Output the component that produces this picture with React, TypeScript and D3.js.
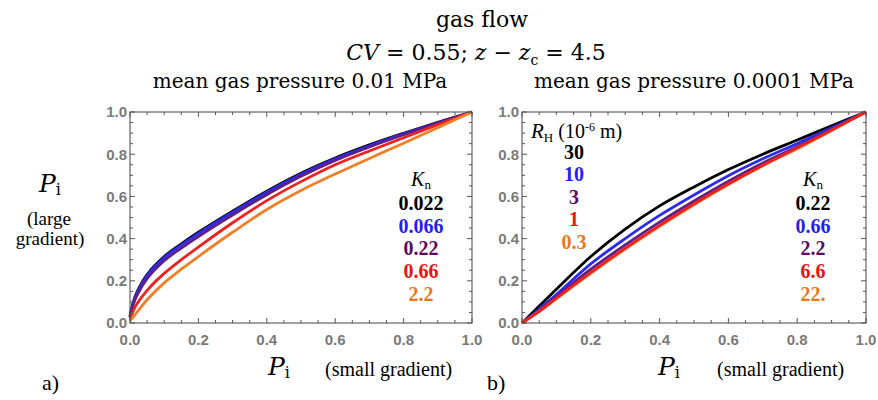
import React from "react";
import * as d3 from "d3";

// small gradient pressure grid (x) for each panel
const gridA = [0, 0.01, 0.02, 0.05, 0.1, 0.15, 0.2, 0.3, 0.4, 0.5, 0.6, 0.7, 0.8, 0.9, 1.0];
const gridB = [0, 0.05, 0.1, 0.2, 0.3, 0.4, 0.5, 0.6, 0.7, 0.8, 0.9, 1.0];

// panel a: mean gas pressure 0.01 MPa, one curve per Kn
const a_k0022 = [0.03, 0.1, 0.145, 0.23, 0.315, 0.375, 0.43, 0.53, 0.625, 0.71, 0.782, 0.844, 0.899, 0.951, 1.0];
const a_k0066 = [0.03, 0.1, 0.14, 0.225, 0.31, 0.37, 0.425, 0.525, 0.62, 0.705, 0.778, 0.84, 0.896, 0.949, 1.0];
const a_k022 = [0.03, 0.09, 0.13, 0.21, 0.295, 0.355, 0.41, 0.512, 0.608, 0.695, 0.77, 0.834, 0.892, 0.946, 1.0];
const a_k066 = [0.02, 0.06, 0.09, 0.155, 0.235, 0.3, 0.36, 0.475, 0.58, 0.67, 0.75, 0.815, 0.878, 0.94, 1.0];
const a_k22 = [0.01, 0.03, 0.05, 0.11, 0.19, 0.255, 0.315, 0.43, 0.538, 0.628, 0.706, 0.78, 0.852, 0.926, 1.0];

// panel b: mean gas pressure 0.0001 MPa
const b_k022 = [0, 0.08, 0.16, 0.315, 0.445, 0.555, 0.645, 0.727, 0.8, 0.867, 0.935, 1.0];
const b_k066 = [0, 0.065, 0.135, 0.28, 0.4, 0.51, 0.607, 0.698, 0.778, 0.85, 0.925, 1.0];
const b_k22 = [0, 0.06, 0.125, 0.255, 0.37, 0.478, 0.578, 0.672, 0.758, 0.835, 0.918, 1.0];
const b_k66 = [0, 0.055, 0.118, 0.24, 0.355, 0.463, 0.565, 0.66, 0.748, 0.83, 0.915, 1.0];
const b_k220 = [0, 0.055, 0.115, 0.235, 0.35, 0.458, 0.56, 0.656, 0.745, 0.826, 0.912, 1.0];

const knA = ["0.022", "0.066", "0.22", "0.66", "2.2"];
const knB = ["0.22", "0.66", "2.2", "6.6", "22."];
const rH = ["30", "10", "3", "1", "0.3"];

const curveColors = ["#000000", "#2b2bee", "#5e1f86", "#ee2020", "#f08028"];
const textColors = ["#000000", "#1f1ff0", "#5a0a66", "#ee1111", "#e8781c"];

const majorTicks = [0, 0.2, 0.4, 0.6, 0.8, 1.0];
const minorTicks = d3.range(0, 1.0001, 0.05).filter((t) => Math.abs(t * 5 - Math.round(t * 5)) > 1e-6);

const top = 112, bottom = 323;
const serif = "'DejaVu Serif', serif";
const times = "'Liberation Serif', serif";

function Panel({ x0, x1, grid, series, order }) {
  const xs = d3.scaleLinear().domain([0, 1]).range([x0, x1]);
  const ys = d3.scaleLinear().domain([0, 1]).range([bottom, top]);
  const line = d3.line().x((d) => xs(d[0])).y((d) => ys(d[1])).curve(d3.curveCatmullRom.alpha(0.5));
  const tick = (t, len, k) => [
    <line key={"b" + k} x1={xs(t)} x2={xs(t)} y1={bottom} y2={bottom - len} />,
    <line key={"t" + k} x1={xs(t)} x2={xs(t)} y1={top} y2={top + len} />,
    <line key={"l" + k} x1={x0} x2={x0 + len} y1={ys(t)} y2={ys(t)} />,
    <line key={"r" + k} x1={x1} x2={x1 - len} y1={ys(t)} y2={ys(t)} />,
  ];
  return (
    <g>
      {order.map((i) => (
        <path key={i} d={line(grid.map((g, j) => [g, series[i][j]]))} fill="none"
          stroke={curveColors[i]} strokeWidth={2.8} strokeLinejoin="round" />
      ))}
      <rect x={x0} y={top} width={x1 - x0} height={bottom - top} fill="none" stroke="#444" strokeWidth={1} />
      <g stroke="#555" strokeWidth={1}>
        {majorTicks.map((t, k) => tick(t, 5, "M" + k))}
        {minorTicks.map((t, k) => tick(t, 3, "m" + k))}
      </g>
      <g fontFamily="'Liberation Sans', sans-serif" fontWeight="bold" fontSize={15} fill="#7a7a7a">
        {majorTicks.map((t) => (
          <text key={"y" + t} x={x0 - 3} y={ys(t)} dy="0.36em" textAnchor="end">{t.toFixed(1)}</text>
        ))}
        {majorTicks.map((t) => (
          <text key={"x" + t} x={xs(t)} y={345} textAnchor="middle">{t.toFixed(1)}</text>
        ))}
      </g>
    </g>
  );
}

function KnLegend({ cx, labels }) {
  return (
    <g fontFamily={times} textAnchor="middle">
      <text x={cx} y={186} fontSize={20}>
        <tspan fontStyle="italic">K</tspan>
        <tspan fontSize={13} dy={3}>n</tspan>
      </text>
      {labels.map((l, i) => (
        <text key={l} x={cx} y={210 + i * 22.7} fontSize={20} fontWeight="bold" fill={textColors[i]}>{l}</text>
      ))}
    </g>
  );
}

export default function App() {
  return (
    <div style={{ position: "absolute", left: 0, top: 0 }}>
      <svg width={878} height={400} style={{ display: "block", background: "#fff" }}>
        <g fontFamily={serif} fontSize={22} textAnchor="middle" fill="#000">
          <text x={482} y={27}>gas flow</text>
          <text x={476} y={60}>
            <tspan fontStyle="italic">CV</tspan> = 0.55; <tspan fontStyle="italic">z</tspan> − <tspan fontStyle="italic">z</tspan>
            <tspan fontSize={14} dy={5}>c</tspan>
            <tspan dy={-5}> = 4.5</tspan>
          </text>
        </g>
        <g fontFamily={serif} fontSize={20} textAnchor="middle">
          <text x={300} y={88}>mean gas pressure 0.01 MPa</text>
          <text x={694} y={88}>mean gas pressure 0.0001 MPa</text>
        </g>

        <Panel x0={130} x1={472} grid={gridA} series={[a_k0022, a_k0066, a_k022, a_k066, a_k22]} order={[0, 1, 2, 3, 4]} />
        <Panel x0={522} x1={866} grid={gridB} series={[b_k022, b_k066, b_k22, b_k66, b_k220]} order={[0, 1, 2, 4, 3]} />

        <KnLegend cx={421} labels={knA} />
        <KnLegend cx={813} labels={knB} />

        <g fontFamily={times}>
          <text x={531} y={138} fontSize={21}>
            <tspan fontStyle="italic">R</tspan>
            <tspan fontSize={13} dy={4}>H</tspan>
            <tspan dy={-4} fontSize={20}> (10</tspan>
            <tspan fontSize={12} dy={-7}>-6</tspan>
            <tspan dy={7} fontSize={20}> m)</tspan>
          </text>
          {rH.map((l, i) => (
            <text key={l} x={574} y={159 + i * 22.4} fontSize={20} fontWeight="bold" textAnchor="middle" fill={textColors[i]}>{l}</text>
          ))}
        </g>

        {/* y axis label */}
        <g textAnchor="middle">
          <text x={50} y={192} fontFamily={serif} fontSize={25}>
            <tspan fontStyle="italic">P</tspan>
            <tspan fontSize={16} dy={3}>i</tspan>
          </text>
          <text x={49} y={225} fontFamily={times} fontSize={19}>(large</text>
          <text x={50} y={245} fontFamily={times} fontSize={19}>gradient)</text>
        </g>

        {/* x axis labels */}
        {[{ p: 268, s: 325, tag: "a)", tx: 42 }, { p: 658, s: 717, tag: "b)", tx: 487 }].map((o) => (
          <g key={o.tag}>
            <text x={o.p} y={375} fontFamily={serif} fontSize={25}>
              <tspan fontStyle="italic">P</tspan>
              <tspan fontSize={16} dy={3}>i</tspan>
            </text>
            <text x={o.s} y={376} fontFamily={times} fontSize={20}>(small gradient)</text>
            <text x={o.tx} y={390} fontFamily={times} fontSize={22}>{o.tag}</text>
          </g>
        ))}
      </svg>
    </div>
  );
}
